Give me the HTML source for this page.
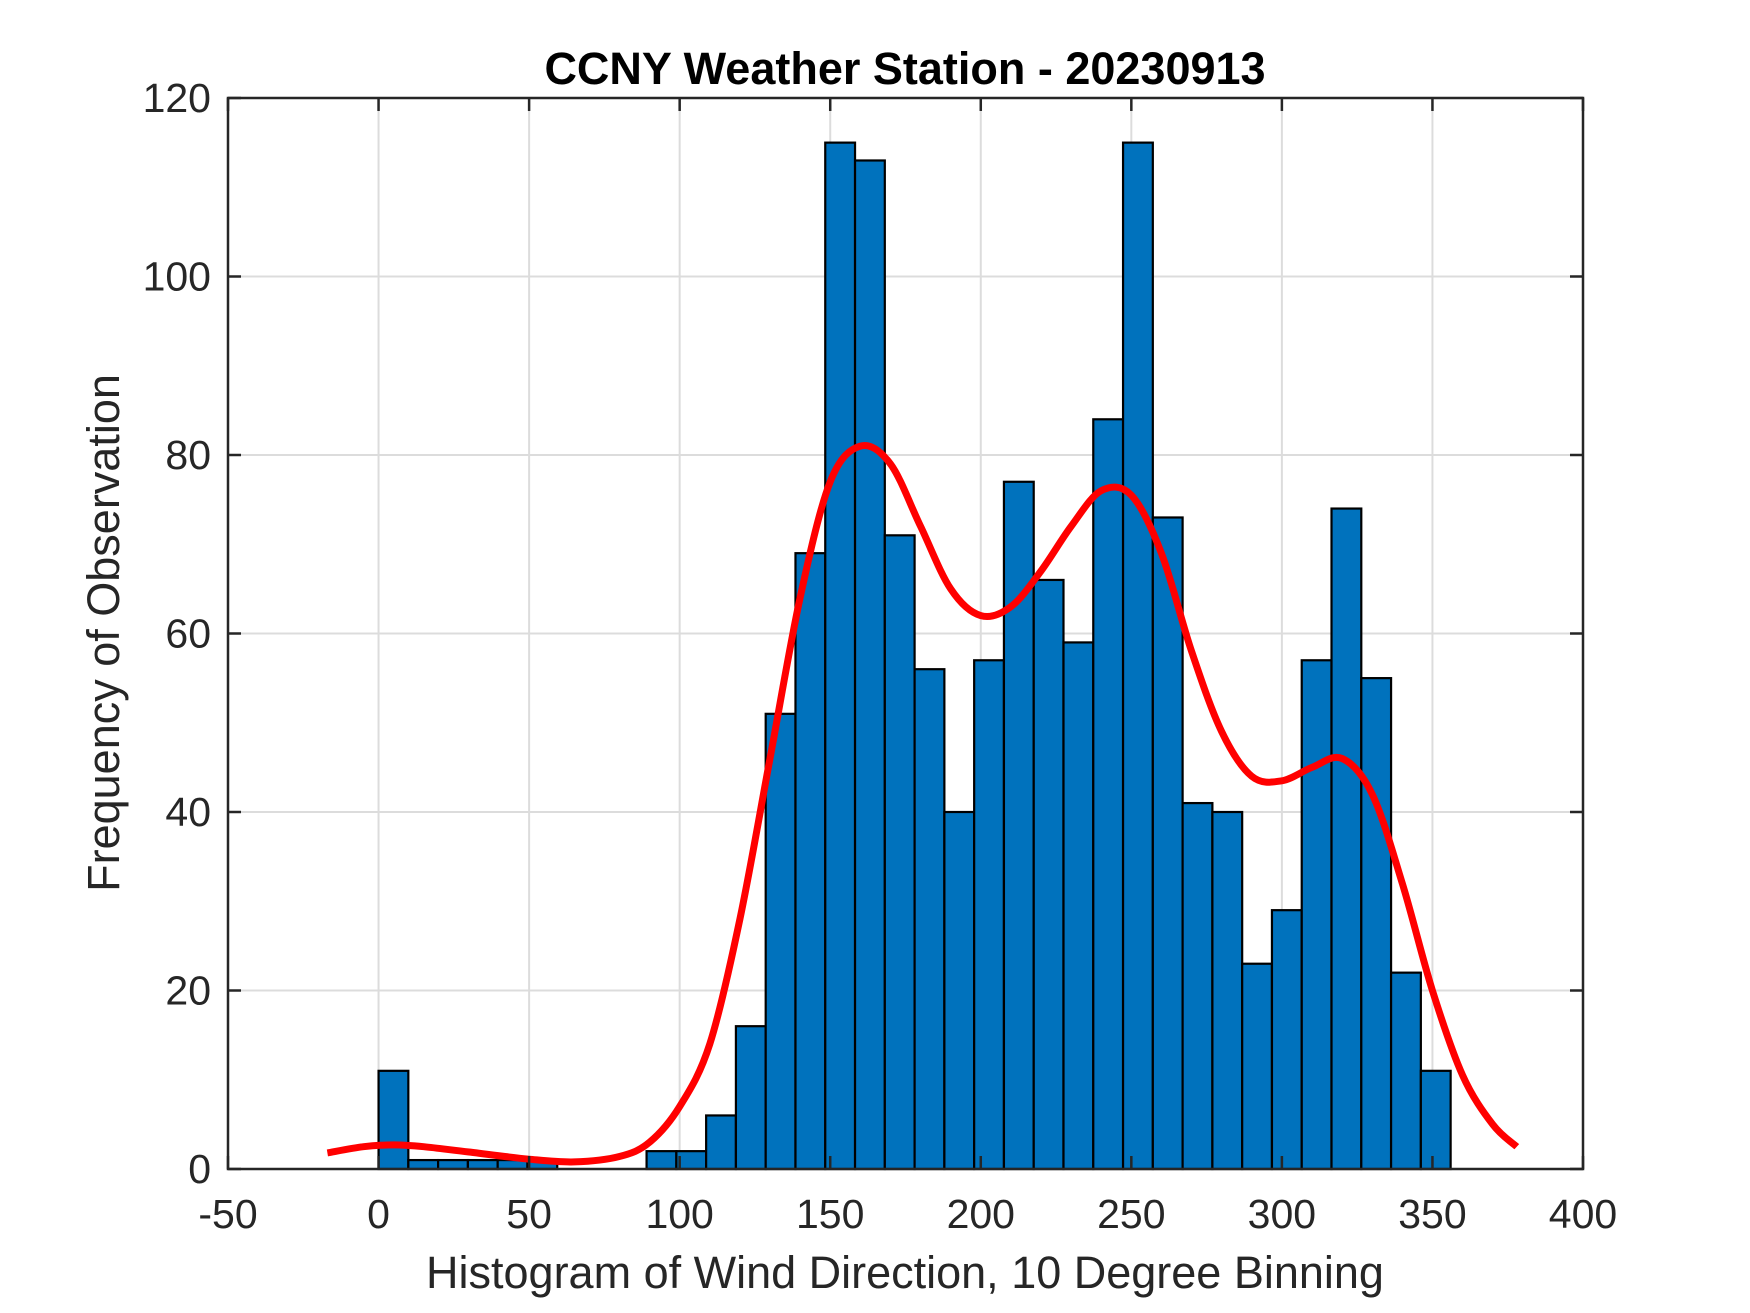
<!DOCTYPE html>
<html><head><meta charset="utf-8"><style>
html,body{margin:0;padding:0;background:#fff;}
svg{display:block;font-family:"Liberation Sans",Arial,sans-serif;}
</style></head><body>
<svg id="chart" width="1750" height="1313" viewBox="0 0 1750 1313"></svg>
<script>
const binStarts=[0,9.89,19.78,29.67,39.56,49.45,59.34,69.23,79.12,89.01,98.9,108.79,118.68,128.57,138.46,148.35,158.24,168.13,178.02,187.91,197.8,207.69,217.58,227.47,237.36,247.25,257.14,267.03,276.92,286.81,296.7,306.59,316.48,326.37,336.26,346.15];
const binCounts=[11,1,1,1,1,1,0,0,0,2,2,6,16,51,69,115,113,71,56,40,57,77,66,59,84,115,73,41,40,23,29,57,74,55,22,11];
const curveX=[-17,-5,5,15,30,50,65,80,90,100,110,120,130,140,150,160,170,180,190,200,210,220,230,240,250,260,270,280,290,300,310,320,330,340,350,360,370,378];
const curveY=[1.8,2.5,2.7,2.5,1.9,1.1,0.8,1.4,3,7,14,28,46,64,77,81,79,72,65,62,63,67,72,76,75.5,69,58,49,44,43.5,45,46,42,32,20,10.5,5,2.5];
const xTicks=[-50,0,50,100,150,200,250,300,350,400];
const yTicks=[0,20,40,60,80,100,120];
const binWidth=9.89;
const L=228,R=1583,T=98,B=1169,xMin=-50,xMax=400,yMin=0,yMax=120;
const sx=v=>L+(v-xMin)/(xMax-xMin)*(R-L);
const sy=v=>B-(v-yMin)/(yMax-yMin)*(B-T);
const NS='http://www.w3.org/2000/svg';
const svg=document.getElementById('chart');
function mk(tag,attrs,parent){const e=document.createElementNS(NS,tag);for(const k in attrs)e.setAttribute(k,attrs[k]);(parent||svg).appendChild(e);return e;}
const grid=mk('g',{});


xTicks.forEach(t=>{mk('line',{x1:sx(t),x2:sx(t),y1:T,y2:B,stroke:'#dcdcdc','stroke-width':2},grid);});
yTicks.forEach(t=>{mk('line',{x1:L,x2:R,y1:sy(t),y2:sy(t),stroke:'#dcdcdc','stroke-width':2},grid);});
const bars=mk('g',{});


binStarts.forEach((b,i)=>{
  if(binCounts[i]<=0)return;
  const r=mk('rect',{x:sx(b),y:sy(binCounts[i]),width:sx(b+binWidth)-sx(b),height:sy(0)-sy(binCounts[i]),fill:'#0072bd',stroke:'#000','stroke-width':2.2},bars);
  
  
});
// smooth curve (Catmull-Rom)
const P=curveX.map((x,i)=>[sx(x),sy(curveY[i])]);
let d='M'+P[0][0].toFixed(1)+','+P[0][1].toFixed(1);
for(let i=0;i<P.length-1;i++){
  const p0=P[Math.max(0,i-1)],p1=P[i],p2=P[i+1],p3=P[Math.min(P.length-1,i+2)];
  const c1=[p1[0]+(p2[0]-p0[0])/6,p1[1]+(p2[1]-p0[1])/6];
  const c2=[p2[0]-(p3[0]-p1[0])/6,p2[1]-(p3[1]-p1[1])/6];
  d+='C'+c1[0].toFixed(1)+','+c1[1].toFixed(1)+' '+c2[0].toFixed(1)+','+c2[1].toFixed(1)+' '+p2[0].toFixed(1)+','+p2[1].toFixed(1);
}
const c=mk('path',{d:d,fill:'none',stroke:'#ff0000','stroke-width':7,'stroke-linejoin':'round'});


const ax=mk('g',{});


mk('rect',{x:L,y:T,width:R-L,height:B-T,fill:'none',stroke:'#262626','stroke-width':2.5},ax);
xTicks.forEach(t=>{
  mk('line',{x1:sx(t),x2:sx(t),y1:B,y2:B-13,stroke:'#262626','stroke-width':2.5},ax);
  mk('line',{x1:sx(t),x2:sx(t),y1:T,y2:T+13,stroke:'#262626','stroke-width':2.5},ax);
  const tx=mk('text',{x:sx(t),y:1228,'text-anchor':'middle','font-size':41,fill:'#262626'});
  tx.textContent=t;
  
  
});
yTicks.forEach(t=>{
  mk('line',{x1:L,x2:L+13,y1:sy(t),y2:sy(t),stroke:'#262626','stroke-width':2.5},ax);
  mk('line',{x1:R,x2:R-13,y1:sy(t),y2:sy(t),stroke:'#262626','stroke-width':2.5},ax);
  const ty=mk('text',{x:211,y:sy(t)+14,'text-anchor':'end','font-size':41,fill:'#262626'});
  ty.textContent=t;
  
  
});
</script>
<svg style="position:absolute;left:0;top:0" width="1750" height="1313">
<text x="905" y="84" text-anchor="middle" font-size="45" font-weight="bold" fill="#000" font-family="Liberation Sans, sans-serif">CCNY Weather Station - 20230913</text>
<text x="905" y="1288" text-anchor="middle" font-size="45" fill="#262626" font-family="Liberation Sans, sans-serif">Histogram of Wind Direction, 10 Degree Binning</text>
<text x="0" y="0" transform="translate(119,633) rotate(-90)" text-anchor="middle" font-size="45" fill="#262626" font-family="Liberation Sans, sans-serif">Frequency of Observation</text>
</svg>
</body></html>
